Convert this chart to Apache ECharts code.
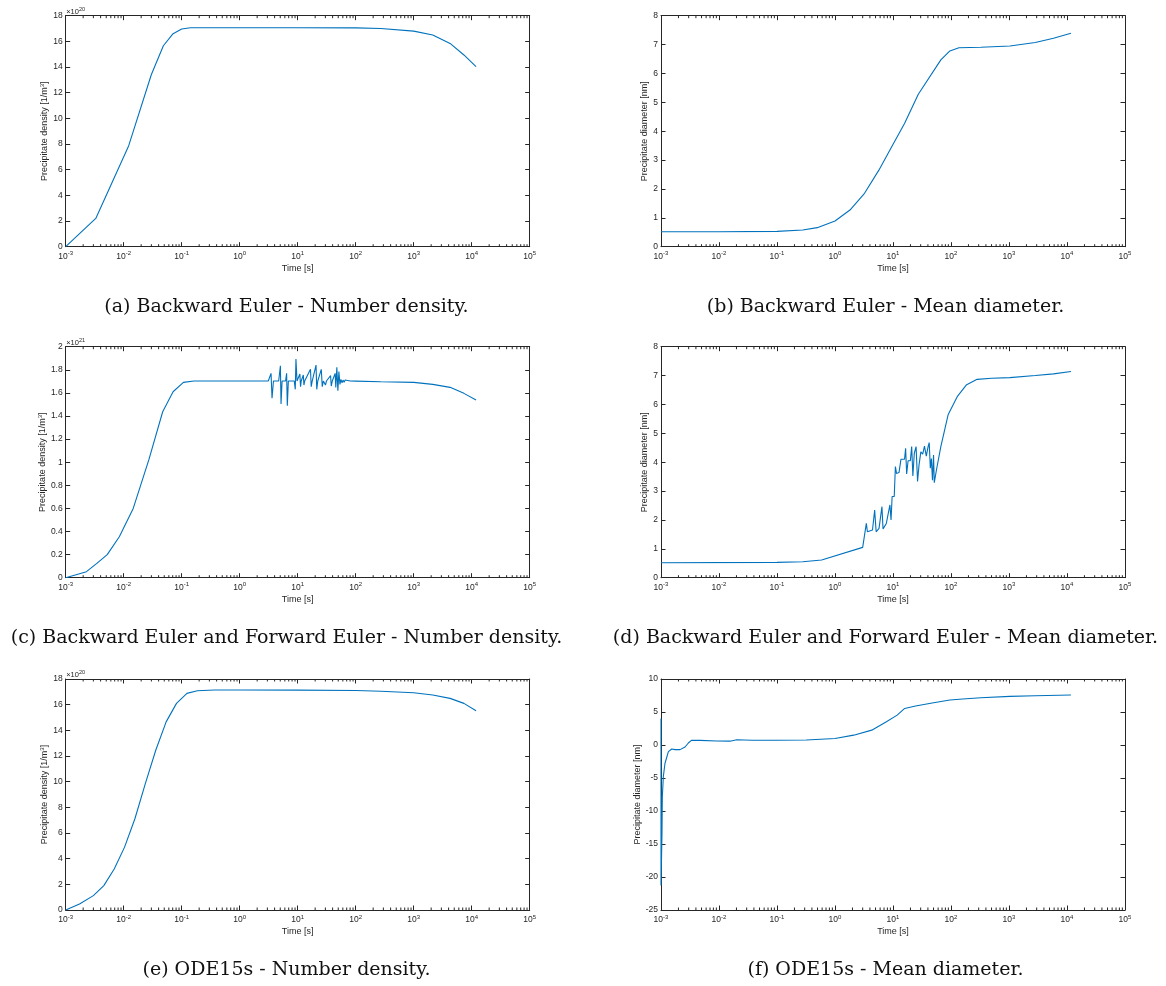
<!DOCTYPE html>
<html><head><meta charset="utf-8">
<script src="https://cdn.jsdelivr.net/npm/echarts@6/dist/echarts.min.js"></script>
<style>html,body{margin:0;padding:0;background:#fff}#c{width:1166px;height:986px}</style>
</head><body><div id="c"></div>
<script>
// ---------------- DATA ----------------
// (a) Backward Euler - number density (x 1e20 1/m^3)
const aTime = [0.001, 0.0033, 0.0122, 0.0299, 0.0483, 0.071, 0.1, 0.141, 0.3, 1, 10, 100, 271, 1000, 2130, 4240, 7340, 11880];
const aDensity = [0, 2.2, 7.87, 13.4, 15.66, 16.6, 16.96, 17.06, 17.06, 17.06, 17.06, 17.05, 17.0, 16.8, 16.5, 15.84, 14.94, 14.03];
// (b) Backward Euler - mean diameter (nm)
const bTime = [0.001, 0.01, 0.1, 0.278, 0.494, 1, 1.81, 3.23, 5.74, 9.5, 15.8, 27.3, 66.8, 95.7, 137, 327, 1035, 2840, 5850, 11700];
const bDiameter = [0.52, 0.52, 0.53, 0.58, 0.66, 0.89, 1.27, 1.85, 2.66, 3.46, 4.27, 5.28, 6.47, 6.78, 6.89, 6.905, 6.95, 7.07, 7.22, 7.39];
// (c) Backward + Forward Euler - number density (x 1e21 1/m^3)
const cTime = [0.001, 0.00228, 0.00344, 0.0052, 0.0084, 0.01459, 0.0271, 0.047, 0.071, 0.107, 0.163, 1, 3.11, 3.47, 3.61, 3.82, 4.70, 5.03, 5.16, 5.38, 6.18, 6.44, 6.62, 6.90, 8.72, 9.08, 9.33, 9.73, 10.9, 11.2, 11.5, 12.5, 12.8, 13.2, 16.6, 17.1, 17.8, 20.7, 21.3, 22.2, 25.5, 26.5, 27.7, 30.1, 31.3, 36.9, 37.9, 39.5, 44.2, 45.4, 47.3, 49.3, 51.3, 53.5, 55.7, 58.1, 60.5, 63.1, 65.8, 68.5, 72.4, 76.5, 80.7, 100, 271, 1000, 2130, 4240, 7340, 11880];
const cDensity = [0, 0.052, 0.124, 0.2, 0.355, 0.6, 1.02, 1.437, 1.61, 1.691, 1.703, 1.703, 1.703, 1.769, 1.553, 1.703, 1.703, 1.835, 1.504, 1.703, 1.703, 1.769, 1.489, 1.703, 1.703, 1.631, 1.893, 1.703, 1.763, 1.654, 1.703, 1.755, 1.668, 1.703, 1.804, 1.654, 1.703, 1.841, 1.631, 1.703, 1.804, 1.654, 1.703, 1.668, 1.703, 1.749, 1.659, 1.703, 1.769, 1.648, 1.821, 1.619, 1.784, 1.674, 1.717, 1.688, 1.711, 1.691, 1.711, 1.694, 1.708, 1.700, 1.703, 1.702, 1.697, 1.691, 1.674, 1.648, 1.596, 1.538];
// (d) Backward + Forward Euler - mean diameter (nm)
const dTime = [0.001, 0.1, 0.278, 0.588, 3.0, 3.47, 3.62, 4.43, 4.83, 5.12, 5.74, 6.45, 6.73, 7.67, 8.85, 9.25, 9.66, 10.5, 11.0, 11.5, 12.7, 13.7, 15.8, 16.5, 17.2, 18.2, 19.9, 21.0, 22.0, 23.3, 25.0, 26.5, 28.1, 30.2, 32.5, 34.9, 37.5, 40.3, 42.1, 44.0, 45.9, 47.9, 50.0, 51.5, 56.1, 66.8, 89.1, 128, 183, 282, 503, 1035, 2840, 5850, 11700];
const dDiameter = [0.52, 0.53, 0.554, 0.612, 1.05, 1.88, 1.59, 1.65, 2.34, 1.59, 1.71, 2.46, 1.69, 1.88, 2.52, 2.0, 2.81, 2.81, 3.85, 3.61, 3.64, 4.10, 4.10, 4.48, 3.59, 4.05, 4.05, 4.54, 3.52, 4.31, 4.54, 3.33, 3.90, 4.36, 4.28, 4.56, 4.21, 4.54, 4.68, 3.79, 4.13, 3.38, 4.25, 3.29, 3.73, 4.54, 5.64, 6.27, 6.67, 6.87, 6.905, 6.93, 7.0, 7.06, 7.14];
// (e) ODE15s - number density (x 1e20 1/m^3)
const eTime = [0.001, 0.00173, 0.003, 0.00454, 0.00686, 0.01035, 0.0156, 0.0236, 0.0357, 0.0539, 0.0813, 0.123, 0.186, 0.369, 1, 10, 100, 271, 1000, 2130, 4240, 7340, 11880];
const eDensity = [0, 0.47, 1.12, 1.90, 3.20, 4.90, 7.11, 9.85, 12.45, 14.66, 16.10, 16.88, 17.09, 17.14, 17.14, 17.13, 17.10, 17.05, 16.93, 16.75, 16.49, 16.10, 15.52];
// (f) ODE15s - mean diameter (nm)
const fTime = [0.001, 0.001, 0.001, 0.00104, 0.001054, 0.001097, 0.00117, 0.00134, 0.00153, 0.001745, 0.00213, 0.0026, 0.00296, 0.00338, 0.00471, 0.0091, 0.0155, 0.0202, 0.0372, 0.101, 0.32, 1.0, 2.1, 4.3, 7.7, 11.8, 15.9, 24.5, 50.1, 95.7, 159, 327, 1035, 2840, 11700];
const fDiameter = [1.0, 4.0, -21.3, -13.5, -7.9, -4.8, -2.8, -1.0, -0.6, -0.7, -0.7, -0.3, 0.3, 0.73, 0.7, 0.6, 0.58, 0.8, 0.73, 0.73, 0.75, 0.98, 1.49, 2.25, 3.52, 4.53, 5.54, 5.9, 6.4, 6.81, 6.96, 7.16, 7.37, 7.47, 7.57];

const captions = [
  '(a) Backward Euler - Number density.',
  '(b) Backward Euler - Mean diameter.',
  '(c) Backward Euler and Forward Euler - Number density.',
  '(d) Backward Euler and Forward Euler - Mean diameter.',
  '(e) ODE15s - Number density.',
  '(f) ODE15s - Mean diameter.'
];
const xName = 'Time [s]';
const densityName = 'Precipitate density [1/m{sup|3}]';
const diameterName = 'Precipitate diameter [nm]';
const xMin = 0.001, xMax = 100000;

// ---------------- LAYOUT / STYLE ----------------
const AX = '#262626';
const LINE = '#0072BD';
const SANS = '"Liberation Sans", Arial, Helvetica, sans-serif';
const TF = 8.5;
const W = 464, H = 231;
const panels = [
  {left: 65.7, top: 15.7, t: aTime, v: aDensity, yMin: 0, yMax: 18, yInt: 2, name: densityName, gap: 15, exp: '20'},
  {left: 661, top: 15.7, t: bTime, v: bDiameter, yMin: 0, yMax: 8, yInt: 1, name: diameterName, gap: 9},
  {left: 65.7, top: 346.7, t: cTime, v: cDensity, yMin: 0, yMax: 2, yInt: 0.2, name: densityName, gap: 15.5, exp: '21'},
  {left: 661, top: 346.7, t: dTime, v: dDiameter, yMin: 0, yMax: 8, yInt: 1, name: diameterName, gap: 9},
  {left: 65.7, top: 679, t: eTime, v: eDensity, yMin: 0, yMax: 18, yInt: 2, name: densityName, gap: 15, exp: '20'},
  {left: 661, top: 679, t: fTime, v: fDiameter, yMin: -25, yMax: 10, yInt: 5, name: diameterName, gap: 16}
];
const capPos = [[286.5, 307.5], [885.5, 307.5], [286.5, 638.5], [885.5, 638.5], [286.5, 970.5], [885.5, 970.5]];

const minorVals = [];
for (let e = -3; e < 5; e++) for (let k = 2; k <= 9; k++) minorVals.push(k * Math.pow(10, e));

const grid = [], xAxis = [], yAxis = [], series = [], graphic = [];
const tickStyle = {color: AX, width: 1};
panels.forEach((p, i) => {
  grid.push({left: p.left, top: p.top, width: W, height: H, containLabel: false});
  const xi = 2 * i;
  xAxis.push({
    type: 'log', logBase: 10, min: xMin, max: xMax, gridIndex: i, position: 'bottom',
    axisLine: {show: true, onZero: false, lineStyle: tickStyle},
    axisTick: {show: true, inside: true, length: 4.5, lineStyle: tickStyle},
    splitLine: {show: false},
    axisLabel: {
      margin: 4, color: AX, fontFamily: SANS, fontSize: TF,
      formatter: val => '{b|10}{e|' + Math.round(Math.log10(val)) + '}',
      rich: {b: {fontSize: TF, color: AX, fontFamily: SANS}, e: {fontSize: 6, color: AX, fontFamily: SANS, padding: [0, 0, 5, 0]}}
    },
    name: xName, nameLocation: 'middle', nameGap: 17,
    nameTextStyle: {fontSize: 9, color: AX, fontFamily: SANS}
  });
  xAxis.push({
    type: 'log', logBase: 10, min: xMin, max: xMax, gridIndex: i, position: 'top',
    axisLine: {show: true, onZero: false, lineStyle: tickStyle},
    axisTick: {show: true, inside: true, length: 4.5, lineStyle: tickStyle},
    splitLine: {show: false}, axisLabel: {show: false}
  });
  yAxis.push({
    type: 'value', min: p.yMin, max: p.yMax, interval: p.yInt, gridIndex: i, position: 'left',
    axisLine: {show: true, onZero: false, lineStyle: tickStyle},
    axisTick: {show: true, inside: true, length: 4.5, lineStyle: tickStyle},
    splitLine: {show: false},
    axisLabel: {margin: 3, color: AX, fontFamily: SANS, fontSize: TF},
    name: p.name, nameLocation: 'middle', nameGap: p.gap,
    nameTextStyle: {fontSize: 9, color: AX, fontFamily: SANS,
      rich: {sup: {fontSize: 6, color: AX, fontFamily: SANS, padding: [0, 0, 5, 0]}}}
  });
  yAxis.push({
    type: 'value', min: p.yMin, max: p.yMax, interval: p.yInt, gridIndex: i, position: 'right',
    axisLine: {show: true, onZero: false, lineStyle: tickStyle},
    axisTick: {show: true, inside: true, length: 4.5, lineStyle: tickStyle},
    splitLine: {show: false}, axisLabel: {show: false}
  });
  series.push({
    type: 'line', xAxisIndex: xi, yAxisIndex: xi,
    data: p.t.map((t, j) => [t, p.v[j]]),
    showSymbol: false, symbol: 'none', animation: false, silent: true,
    lineStyle: {color: LINE, width: 1.1}, clip: true
  });
  series.push({
    type: 'custom', xAxisIndex: xi, yAxisIndex: xi, silent: true, animation: false, clip: false,
    data: minorVals.map(m => [m, p.yMin]),
    renderItem: (params, api) => {
      const x = api.coord([api.value(0), api.value(1)])[0];
      const cs = params.coordSys;
      const st = {stroke: AX, lineWidth: 1};
      return {type: 'group', children: [
        {type: 'line', shape: {x1: x, y1: cs.y + cs.height, x2: x, y2: cs.y + cs.height - 2.5}, style: st},
        {type: 'line', shape: {x1: x, y1: cs.y, x2: x, y2: cs.y + 2.5}, style: st}
      ]};
    }
  });
  if (p.exp) {
    graphic.push({
      type: 'text', x: p.left + 0.5, y: p.top - 4, silent: true,
      style: {text: '\u00d710{e|' + p.exp + '}', fontSize: 7.5, fontFamily: SANS, fill: AX,
        verticalAlign: 'middle', align: 'left',
        rich: {e: {fontSize: 5.5, fontFamily: SANS, fill: AX, padding: [0, 0, 5, 0]}}}
    });
  }
  graphic.push({
    type: 'text', x: capPos[i][0], y: capPos[i][1], silent: true,
    style: {text: captions[i], fontSize: 19, fontFamily: '"DejaVu Serif", serif', fill: '#111',
      align: 'center', verticalAlign: 'middle'}
  });
});

const chart = echarts.init(document.getElementById('c'), null, {renderer: 'canvas'});
chart.setOption({animation: false, backgroundColor: '#fff', grid, xAxis, yAxis, series, graphic});
</script></body></html>
